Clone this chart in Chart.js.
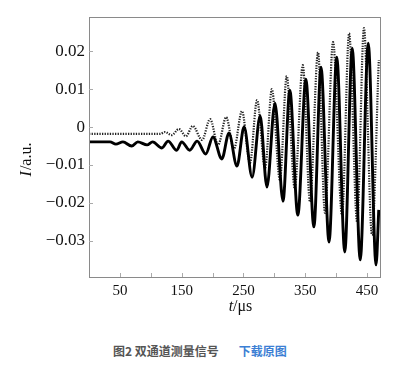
<!DOCTYPE html>
<html>
<head>
<meta charset="utf-8">
<script src="https://cdn.jsdelivr.net/npm/chart.js@4/dist/chart.umd.min.js"></script>
<style>
  html, body { margin: 0; padding: 0; background: #fff; }
  #wrap { position: absolute; left: 0; top: 0; width: 410px; height: 330px; }
  #cap { position: absolute; left: 113px; top: 342px; font-family: "Noto Sans CJK SC", sans-serif; font-size: 12px; font-weight: bold; line-height: 18px; white-space: nowrap; }
  #cap .t { color: #555; }
  #cap .l { color: #3c7fd4; margin-left: 20px; }
</style>
</head>
<body>
<div id="wrap"><canvas id="c" width="410" height="330"></canvas></div>
<div id="cap"><span class="t">图2 双通道测量信号</span><span class="l">下载原图</span></div>
<script>
// Solid channel (t in µs, I in a.u.) — extrema
const solidT = [0, 34, 43.5, 55, 69, 79, 94, 103, 118, 128, 142, 150, 163, 175, 189, 200.6, 215, 226.5, 239.5, 251, 264, 277, 288, 301, 314, 325, 338, 351, 364, 375.5, 388.5, 401, 414, 426, 439, 452, 464.6, 469];
const solidI = [-0.0039, -0.0039, -0.0045, -0.0039, -0.0050, -0.0039, -0.0047, -0.0039, -0.0055, -0.0037, -0.0061, -0.0039, -0.0061, -0.0037, -0.0071, -0.0026, -0.0084, -0.0016, -0.0103, 0.0000, -0.0132, 0.0029, -0.0158, 0.0063, -0.0195, 0.0097, -0.0232, 0.0126, -0.0263, 0.0158, -0.0303, 0.0184, -0.0329, 0.0208, -0.0350, 0.0221, -0.0363, -0.0218];
// Dotted channel
const dottedT = [0, 115, 123, 134, 145.5, 157, 168, 183, 196, 209, 222, 234.6, 247.6, 260.5, 272, 285, 296, 309, 320, 333, 346, 357.7, 370.7, 382, 395, 409.5, 421, 434, 445, 458, 469];
const dottedI = [-0.0018, -0.0018, -0.0013, -0.0021, -0.0005, -0.0024, 0.0003, -0.0034, 0.0021, -0.0047, 0.0026, -0.0058, 0.0042, -0.0095, 0.0071, -0.0108, 0.0100, -0.0139, 0.0134, -0.0161, 0.0163, -0.0197, 0.0197, -0.0226, 0.0224, -0.0232, 0.0247, -0.0250, 0.0261, -0.0284, 0.0176];
// Ticks
const xTicks = [50, 100, 150, 200, 250, 300, 350, 400, 450];
const xTickLabels = [50, 150, 250, 350, 450];
const yTicks = [-0.03, -0.02, -0.01, 0, 0.01, 0.02];
const yTickLabels = ["\u22120.03", "\u22120.02", "\u22120.01", "0", "0.01", "0.02"];
const xRange = [0, 471];
const yRange = [-0.0395, 0.029];

const toPts = (xs, ys) => xs.map((x, i) => ({ x: x, y: ys[i] }));

const framePlugin = {
  id: 'frame',
  afterDraw(chart) {
    const ctx = chart.ctx, a = chart.chartArea;
    const xs = chart.scales.x, ys = chart.scales.y;
    ctx.save();
    ctx.strokeStyle = '#8a8a8a';
    ctx.lineWidth = 1;
    ctx.strokeRect(Math.round(a.left) + 0.5, Math.round(a.top) + 0.5, Math.round(a.right - a.left), Math.round(a.bottom - a.top));
    ctx.strokeStyle = '#aaa';
    ctx.beginPath();
    xTicks.forEach(v => {
      const px = Math.round(xs.getPixelForValue(v)) + 0.5;
      ctx.moveTo(px, a.bottom); ctx.lineTo(px, a.bottom - 4);
    });
    yTicks.forEach(v => {
      const py = Math.round(ys.getPixelForValue(v)) + 0.5;
      ctx.moveTo(a.left, py); ctx.lineTo(a.left + 4, py);
    });
    ctx.stroke();
    // axis titles
    ctx.fillStyle = '#111';
    ctx.textBaseline = 'middle';
    const it = 'italic 16px "Liberation Serif"', rm = '16px "Liberation Serif"';
    ctx.font = it; const w1 = ctx.measureText('t').width;
    ctx.font = rm; const w2 = ctx.measureText('/\u03bcs').width;
    let cx = (a.left + a.right) / 2 + 6 - (w1 + w2) / 2;
    const ty = a.bottom + 30;
    ctx.textAlign = 'left';
    ctx.font = it; ctx.fillText('t', cx, ty);
    ctx.font = rm; ctx.fillText('/\u03bcs', cx + w1, ty);
    ctx.translate(27, (a.top + a.bottom) / 2 + 13);
    ctx.rotate(-Math.PI / 2);
    ctx.font = it; const v1 = ctx.measureText('I').width;
    ctx.font = rm; const v2 = ctx.measureText('/a.u.').width;
    const sx = -(v1 + v2) / 2;
    ctx.font = it; ctx.fillText('I', sx, 0);
    ctx.font = rm; ctx.fillText('/a.u.', sx + v1 + 1, 0);
    ctx.restore();
  }
};

new Chart(document.getElementById('c'), {
  type: 'line',
  data: {
    datasets: [
      {
        label: 'solid',
        data: toPts(solidT, solidI),
        borderColor: '#000',
        borderWidth: 2.9,
        pointRadius: 0,
        fill: false,
        cubicInterpolationMode: 'monotone'
      },
      {
        label: 'dotted',
        data: toPts(dottedT, dottedI),
        borderColor: '#222',
        borderWidth: 2.2,
        borderDash: [1.3, 1.3],
        pointRadius: 0,
        fill: false,
        cubicInterpolationMode: 'monotone'
      }
    ]
  },
  options: {
    responsive: false,
    animation: false,
    events: [],
    layout: { padding: { top: 17, right: 30, left: 0, bottom: 0 } },
    plugins: { legend: { display: false }, tooltip: { enabled: false } },
    scales: {
      x: {
        type: 'linear',
        min: xRange[0], max: xRange[1],
        afterBuildTicks: s => { s.ticks = xTicks.map(v => ({ value: v })); },
        afterFit: s => { s.height = 53; },
        grid: { display: false, drawTicks: false },
        border: { display: false },
        ticks: {
          autoSkip: false, maxRotation: 0, padding: 5,
          color: '#111',
          font: { family: 'Liberation Serif', size: 15 },
          callback: v => xTickLabels.includes(v) ? String(v) : ''
        }
      },
      y: {
        type: 'linear',
        min: yRange[0], max: yRange[1],
        afterBuildTicks: s => { s.ticks = yTicks.map(v => ({ value: v })); },
        afterFit: s => { s.width = 89; },
        grid: { display: false, drawTicks: false },
        border: { display: false },
        ticks: {
          padding: 4,
          color: '#111',
          font: { family: 'Liberation Serif', size: 17 },
          callback: v => { const i = yTicks.findIndex(t => Math.abs(t - v) < 1e-9); return i >= 0 ? yTickLabels[i] : ''; }
        }
      }
    }
  },
  plugins: [framePlugin]
});
</script>
</body>
</html>
